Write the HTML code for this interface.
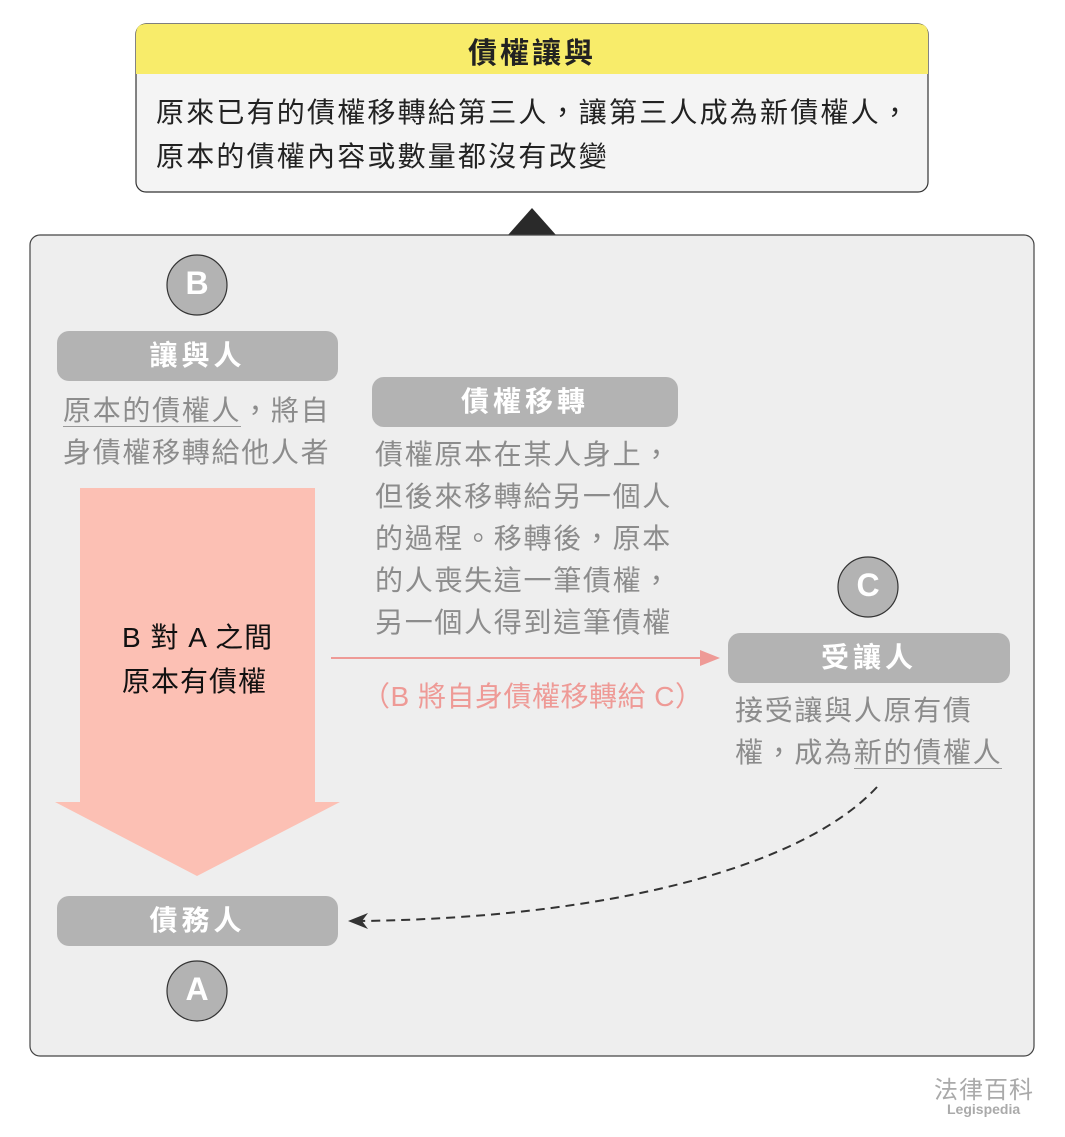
<!DOCTYPE html>
<html><head><meta charset="utf-8"><style>
body{margin:0;width:1065px;height:1137px;background:#fff;position:relative;overflow:hidden;font-family:"Liberation Sans","Noto Sans CJK TC",sans-serif}
.a{position:absolute;white-space:nowrap}
.lbl{position:absolute;background:#b3b3b3;border-radius:12px;color:#fff;font-weight:bold;font-size:28px;text-align:center;letter-spacing:4px}
.g{color:#8c8c8c;font-size:28px;line-height:42px;letter-spacing:1.7px}
.u{border-bottom:1.5px solid #999}
</style></head><body>
<svg class="a" style="left:0;top:0" width="1065" height="1137">
<rect x="136" y="24" width="792" height="168" rx="10" fill="#f4f4f4" stroke="#333" stroke-width="1.2"/>
<path d="M146 24 H918 Q928 24 928 34 V74 H136 V34 Q136 24 146 24Z" fill="#f8ec6a"/>
<polygon points="508,235 532,208 556,235" fill="#2a2a2a"/>
<rect x="30" y="235" width="1004" height="821" rx="10" fill="#eeeeee" stroke="#444" stroke-width="1.2"/>
<circle cx="197" cy="285" r="30" fill="#b3b3b3" stroke="#333" stroke-width="1.2"/>
<circle cx="868" cy="587" r="30" fill="#b3b3b3" stroke="#333" stroke-width="1.2"/>
<circle cx="197" cy="991" r="30" fill="#b3b3b3" stroke="#333" stroke-width="1.2"/>
<polygon points="80,488 315,488 315,802 340,802 197,876 55,802 80,802" fill="#fcc0b4"/>
<line x1="331" y1="658" x2="705" y2="658" stroke="#ee9a96" stroke-width="2"/>
<polygon points="720,658 700,650 700,666" fill="#ee9a96"/>
<path d="M877 787 C800 870 600 918 360 921" fill="none" stroke="#333" stroke-width="2" stroke-dasharray="9,6"/>
<polygon points="348,921 368,913 362,921 368,929" fill="#333"/>
</svg>
<div class="a" style="left:136px;top:30px;width:792px;text-align:center;font-size:29px;font-weight:bold;color:#222;letter-spacing:3px">債權讓與</div>
<div class="a" style="left:156px;top:91px;font-size:28px;line-height:44px;color:#222;letter-spacing:2.2px">原來已有的債權移轉給第三人，讓第三人成為新債權人，<br>原本的債權內容或數量都沒有改變</div>
<div class="a" style="left:167px;top:265px;width:60px;text-align:center;color:#fff;font-weight:bold;font-size:32px">B</div>
<div class="a" style="left:838px;top:567px;width:60px;text-align:center;color:#fff;font-weight:bold;font-size:32px">C</div>
<div class="a" style="left:167px;top:971px;width:60px;text-align:center;color:#fff;font-weight:bold;font-size:32px">A</div>
<div class="lbl" style="left:57px;top:331px;width:281px;height:50px;line-height:50px">讓與人</div>
<div class="lbl" style="left:372px;top:377px;width:306px;height:50px;line-height:50px">債權移轉</div>
<div class="lbl" style="left:728px;top:633px;width:282px;height:50px;line-height:50px">受讓人</div>
<div class="lbl" style="left:57px;top:896px;width:281px;height:50px;line-height:50px">債務人</div>
<div class="a g" style="left:63px;top:390px"><span class="u">原本的債權人</span>，將自<br>身債權移轉給他人者</div>
<div class="a g" style="left:375px;top:434px">債權原本在某人身上，<br>但後來移轉給另一個人<br>的過程。移轉後，原本<br>的人喪失這一筆債權，<br>另一個人得到這筆債權</div>
<div class="a g" style="left:735px;top:690px">接受讓與人原有債<br>權，成為<span class="u">新的債權人</span></div>
<div class="a" style="left:122px;top:616px;font-size:28px;line-height:44px;color:#111;letter-spacing:1px">B 對 A 之間<br>原本有債權</div>
<div class="a" style="left:362px;top:675px;font-size:28px;color:#ee9a96;letter-spacing:0.5px">（B 將自身債權移轉給 C）</div>
<div class="a" style="left:934px;top:1070px;font-size:24px;color:#aaa;letter-spacing:1px">法律百科</div>
<div class="a" style="left:947px;top:1101px;font-size:14px;font-weight:bold;color:#aaa">Legispedia</div>
</body></html>
